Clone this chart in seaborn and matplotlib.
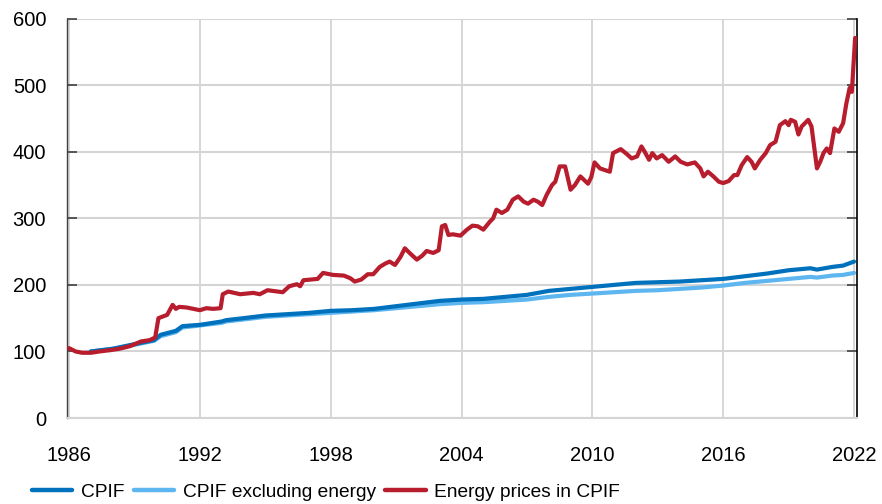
import pandas as pd
import matplotlib
matplotlib.use('Agg')
import matplotlib.pyplot as plt
import seaborn as sns
from matplotlib.lines import Line2D

# Data (index, 1987 = 100)
cpif_years = [1987.0, 1988.0, 1989.0, 1989.9, 1990.2, 1990.9, 1991.2, 1992.0, 1993.0, 1993.2,
              1994.0, 1995.0, 1996.0, 1997.0, 1998.0, 1999.0, 2000.0, 2001.0, 2002.0, 2003.0,
              2004.0, 2005.0, 2006.0, 2007.0, 2008.0, 2009.0, 2010.0, 2011.0, 2012.0, 2013.0,
              2014.0, 2015.0, 2016.0, 2017.0, 2018.0, 2019.0, 2020.0, 2020.3, 2021.0, 2021.5,
              2022.0]
cpif = [100, 104, 111, 117, 125, 131, 138, 140, 145, 147,
        150, 154, 156, 158, 161, 162, 164, 168, 172, 176,
        178, 179, 182, 185, 191, 194, 197, 200, 203, 204,
        205, 207, 209, 213, 217, 222, 225, 223, 227, 229,
        235]
cpif_ex_energy = [100, 104, 110, 116, 123, 129, 136, 139, 143, 145,
                  148, 152, 154, 156, 158, 160, 162, 165, 168, 171,
                  173, 174, 176, 178, 182, 185, 187, 189, 191, 192,
                  194, 196, 199, 203, 206, 209, 212, 211, 214, 215,
                  218]

energy_years = [1986.0, 1986.3, 1986.6, 1987.0, 1987.4, 1987.9, 1988.3, 1988.8, 1989.3, 1989.7,
                1989.95, 1990.1, 1990.5, 1990.75, 1990.9, 1991.05, 1991.4, 1992.0, 1992.3, 1992.6,
                1992.95, 1993.05, 1993.3, 1993.85, 1994.45, 1994.75, 1995.1, 1995.8, 1996.1, 1996.45,
                1996.6, 1996.75, 1997.4, 1997.65, 1998.1, 1998.6, 1998.9, 1999.1, 1999.4, 1999.7,
                1999.95, 2000.25, 2000.5, 2000.7, 2000.95, 2001.2, 2001.4, 2001.65, 2001.95, 2002.2,
                2002.4, 2002.7, 2002.95, 2003.1, 2003.25, 2003.4, 2003.6, 2003.95, 2004.25, 2004.5,
                2004.75, 2005.0, 2005.3, 2005.45, 2005.6, 2005.85, 2006.1, 2006.35, 2006.6, 2006.85,
                2007.05, 2007.3, 2007.5, 2007.7, 2007.9, 2008.15, 2008.3, 2008.5, 2008.75, 2009.0,
                2009.2, 2009.45, 2009.7, 2009.8, 2009.95, 2010.1, 2010.35, 2010.8, 2010.95, 2011.3,
                2011.6, 2011.8, 2012.05, 2012.25, 2012.4, 2012.6, 2012.75, 2012.95, 2013.2, 2013.5,
                2013.8, 2014.05, 2014.35, 2014.7, 2014.95, 2015.1, 2015.3, 2015.55, 2015.8, 2016.0,
                2016.25, 2016.5, 2016.65, 2016.85, 2017.1, 2017.3, 2017.45, 2017.7, 2017.95, 2018.15,
                2018.4, 2018.6, 2018.85, 2019.0, 2019.1, 2019.3, 2019.45, 2019.6, 2019.9, 2020.05,
                2020.3, 2020.45, 2020.6, 2020.75, 2020.9, 2021.1, 2021.3, 2021.5, 2021.65, 2021.8,
                2021.9, 2022.05]
energy = [105, 100, 98, 98, 100, 102, 104, 108, 115, 117,
          121, 150, 155, 170, 164, 167, 166, 162, 165, 164,
          165, 186, 190, 186, 188, 186, 192, 189, 198, 201,
          198, 207, 209, 218, 215, 214, 210, 205, 208, 216,
          216, 227, 232, 235, 230, 242, 255, 247, 238, 244,
          251, 248, 252, 288, 290, 275, 276, 274, 283, 289,
          288, 283, 295, 300, 313, 308, 313, 328, 333, 325,
          322, 328, 325, 320, 335, 350, 355, 378, 378, 343,
          350, 363, 355, 352, 362, 384, 375, 370, 398, 404,
          396, 390, 393, 408, 400, 388, 398, 390, 395, 385,
          393, 385, 381, 384, 375, 363, 370, 363, 355, 353,
          356, 365, 365, 380, 392, 385, 375, 388, 398, 410,
          415, 440, 446, 440, 448, 445, 426, 438, 448, 438,
          375, 385, 398, 405, 398, 435, 430, 443, 473, 496,
          490, 571]

series_names = ['CPIF', 'CPIF excluding energy', 'Energy prices in CPIF']
colors = ['#0071bc', '#5db6f0', '#b81d2d']
x_ticks = [1986, 1992, 1998, 2004, 2010, 2016, 2022]
y_ticks = [0, 100, 200, 300, 400, 500, 600]

df = pd.concat([
    pd.DataFrame({'year': cpif_years, 'value': cpif, 'series': series_names[0]}),
    pd.DataFrame({'year': cpif_years, 'value': cpif_ex_energy, 'series': series_names[1]}),
    pd.DataFrame({'year': energy_years, 'value': energy, 'series': series_names[2]}),
])

sns.set_style('white')
plt.rcParams['font.family'] = ['Liberation Sans', 'DejaVu Sans']
plt.rcParams['text.color'] = 'black'
plt.rcParams['xtick.color'] = 'black'
plt.rcParams['ytick.color'] = 'black'

fig = plt.figure(figsize=(8.82, 5.04), dpi=100)
ax = fig.add_axes([0.076, 0.1706, 0.8957, 0.7924])

grid_col = '#d4d4d4'
for xv in x_ticks:
    ax.axvline(xv, color=grid_col, lw=1.3, zorder=0)
for yv in y_ticks:
    ax.axhline(yv, color=grid_col, lw=1.5, zorder=0)

sns.lineplot(data=df, x='year', y='value', hue='series', hue_order=series_names,
             palette=colors, estimator=None, linewidth=3.0, legend=False, ax=ax)
# stacking: light blue under dark blue, red on top
for line, z in zip(ax.get_lines()[-3:], [4, 3, 5]):
    line.set_zorder(z)

ax.set_xlim(1985.908, 2022.138)
ax.set_ylim(0, 600)
ax.set_xticks(x_ticks)
ax.set_yticks(y_ticks)
ax.set_xlabel('')
ax.set_ylabel('')

ax.spines['top'].set_visible(False)
ax.spines['bottom'].set_color(grid_col)
ax.spines['bottom'].set_linewidth(1.5)
ax.spines['left'].set_color('#404040')
ax.spines['left'].set_linewidth(1.0)
ax.spines['right'].set_color('#000000')
ax.spines['right'].set_linewidth(1.2)

ax.tick_params(axis='y', direction='in', length=7.5, width=1.2, color='#404040',
               left=True, right=True, labelright=False, labelsize=14.5, pad=15,
               labelcolor='black')
ax.tick_params(axis='x', length=0, labelsize=14.5, pad=20, labelcolor='black')

handles = [Line2D([0], [0], color=c, lw=3.2) for c in colors]
fig.legend(handles, series_names, loc='center left', bbox_to_anchor=(0.036, 0.023),
           ncol=3, frameon=False, fontsize=13.8, handlelength=2.1, handletextpad=0.45,
           columnspacing=0.5, borderaxespad=0, borderpad=0)

fig.savefig('out.png', dpi=100)
